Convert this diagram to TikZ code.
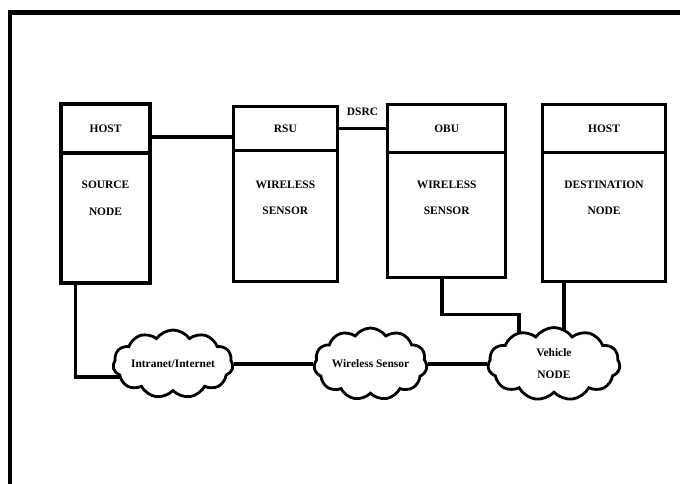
\documentclass[tikz,border=0pt]{standalone}
\usepackage{fontspec}
\setmainfont{Liberation Serif}
\usepackage{tikz}
\usetikzlibrary{positioning}
\usetikzlibrary{shapes.symbols,backgrounds}
\pgfkeys{tikz/myhead/.style={draw,line width=1.9pt,inner sep=0pt,font=\fontsize{6.5}{8}\selectfont\bfseries}}
\pgfkeys{tikz/mybody/.style={draw,line width=1.9pt,inner sep=0pt}}
\pgfkeys{tikz/mytext/.style={align=center,inner sep=0pt,font=\fontsize{6.5}{15.3}\selectfont\bfseries}}
\pgfkeys{tikz/mycloud/.style={cloud,draw,fill=white,line width=1.6pt,cloud puffs=11,cloud puff arc=110,aspect=4,inner sep=0pt,align=center,font=\fontsize{6.5}{12.5}\selectfont\bfseries}}
\pgfkeys{tikz/myline/.style={line width=1.9pt}}

\begin{document}
\begin{tikzpicture}[line width=1.9pt]

	\useasboundingbox (0,0) rectangle (13.6,-9.66);
	\draw[line width=2.6pt] (0.2,-9.8) |- (13.8,-0.25);

	\node[myhead,minimum width=1.78cm,minimum height=0.98cm] (src) at (2.11,-2.57) {HOST};
	\node[mybody,minimum width=1.78cm,minimum height=2.6cm,below=-\pgflinewidth of src] (srcb) {};
	\node[mytext,below=0.56cm of srcb.north] (srct) {SOURCE\\NODE};

	\node[myhead,minimum width=2.08cm,minimum height=0.88cm,right=1.6cm of src] (rsu) {RSU};
	\node[mybody,minimum width=2.08cm,minimum height=2.62cm,below=-\pgflinewidth of rsu] (rsub) {};
	\node[mytext,below=0.6cm of rsub.north] (rsut) {WIRELESS\\SENSOR};

	\node[myhead,minimum width=2.36cm,minimum height=0.96cm,right=0.94cm of rsu] (obu) {OBU};
	\node[mybody,minimum width=2.36cm,minimum height=2.5cm,below=-\pgflinewidth of obu] (obub) {};
	\node[mytext,below=0.56cm of obub.north] (obut) {WIRELESS\\SENSOR};

	\node[myhead,minimum width=2.46cm,minimum height=0.96cm,right=0.67cm of obu] (dst) {HOST};
	\node[mybody,minimum width=2.46cm,minimum height=2.58cm,below=-\pgflinewidth of dst] (dstb) {};
	\node[mytext,below=0.56cm of dstb.north] (dstt) {DESTINATION\\NODE};

	\node[mycloud,minimum width=2.4cm,minimum height=1.36cm] (inet) at (3.46,-7.28) {Intranet/Internet};
	\node[mycloud,minimum width=2.26cm,minimum height=1.44cm,right=1.58cm of inet] (wsn) {Wireless Sensor};
	\node[mycloud,aspect=1.8,minimum width=2.64cm,minimum height=1.46cm,right=1.18cm of wsn] (veh) {Vehicle\\NODE};

	\draw[myline] ([yshift=-0.17cm]src.east) -- ([yshift=-0.17cm]src.east -| rsu.west);
	\draw[myline] (rsu.east) -- (rsu.east -| obu.west) node[midway,mytext,above=0.22cm] (dsrc) {DSRC};

	\begin{scope}[on background layer]
	\draw[myline] ([xshift=0.32cm]srcb.south west) |- ([yshift=-0.26cm]inet.center);
	\draw[myline] (inet) -- (wsn);
	\draw[myline] (wsn) -- (veh);
	\draw[myline] ([xshift=1.12cm]obub.south west) -- ++(0,-0.7) -| ([xshift=-0.7cm]veh.center);
	\draw[myline] ([xshift=0.46cm]dstb.south west) -- ([xshift=0.46cm]dstb.south west |- veh.center);
	\end{scope}
\end{tikzpicture}
\end{document}
